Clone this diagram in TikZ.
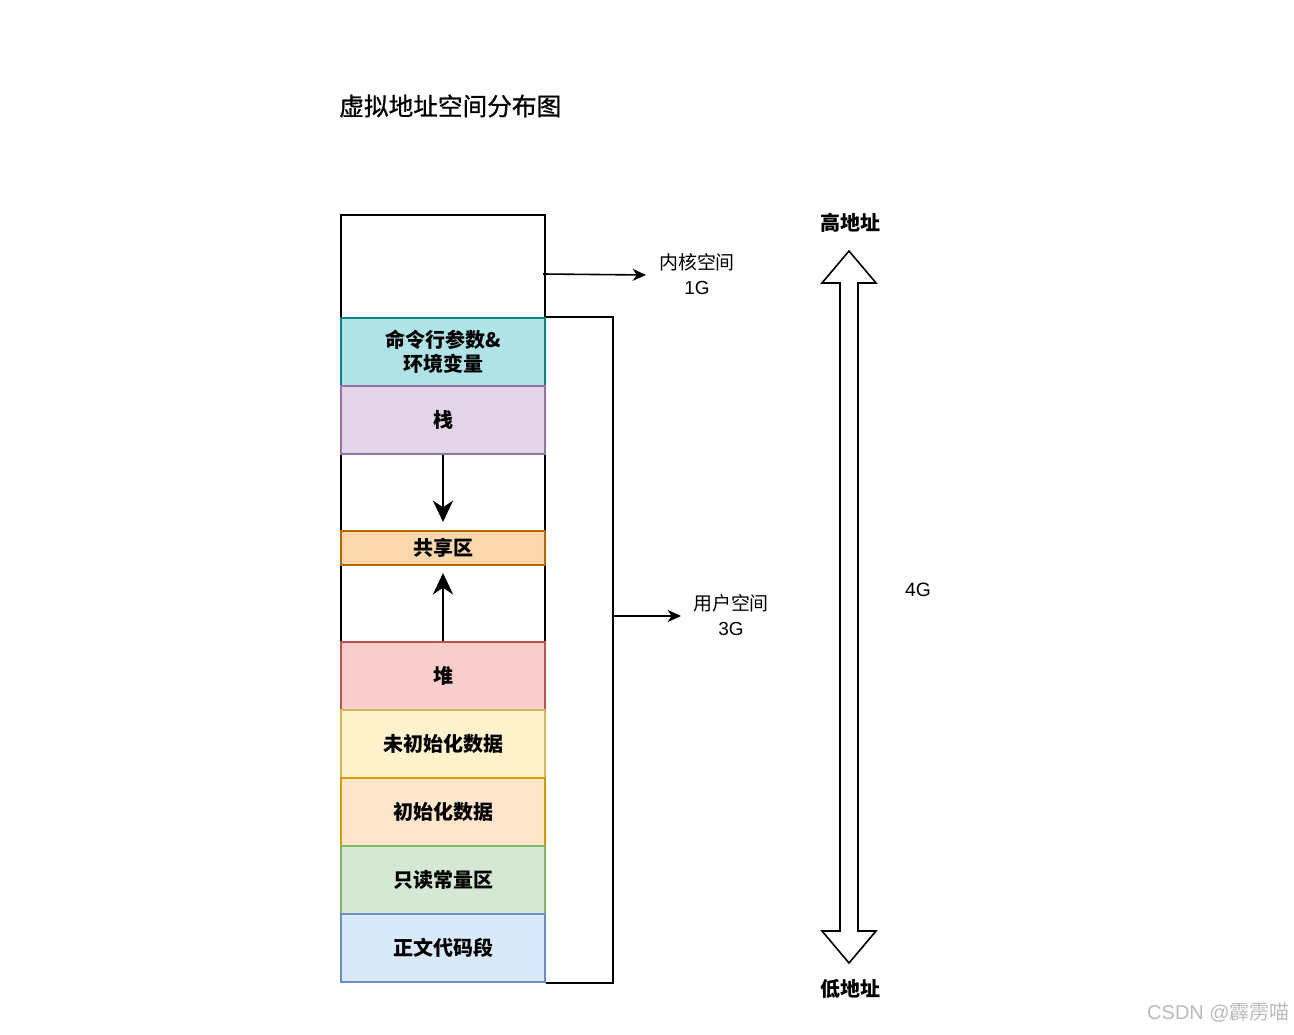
\documentclass[tikz,border=0pt]{standalone}
\usepackage{fontspec}
\setmainfont{Liberation Sans}
\newfontfamily\cjk{Noto Sans CJK SC}
\newfontfamily\cjktitle{Noto Sans CJK SC}[FakeBold=0.8]
\usetikzlibrary{arrows.meta}
\definecolor{cmdF}{HTML}{B0E3E6}\definecolor{cmdD}{HTML}{0E8088}
\definecolor{stkF}{HTML}{E1D5E7}\definecolor{stkD}{HTML}{9673A6}
\definecolor{shrF}{HTML}{FAD7AC}\definecolor{shrD}{HTML}{B46504}
\definecolor{heapF}{HTML}{F8CECC}\definecolor{heapD}{HTML}{B85450}
\definecolor{bssF}{HTML}{FFF2CC}\definecolor{bssD}{HTML}{D6B656}
\definecolor{datF}{HTML}{FFE6CC}\definecolor{datD}{HTML}{D79B00}
\definecolor{roF}{HTML}{D5E8D4}\definecolor{roD}{HTML}{82B366}
\definecolor{txtF}{HTML}{DAE8FC}\definecolor{txtD}{HTML}{6C8EBF}
\definecolor{wm}{HTML}{BBBBBB}
\begin{document}
\begin{tikzpicture}[x=0.75pt,y=-0.75pt,
  seg/.style={rectangle, draw, minimum width=204*0.75pt, inner sep=0pt, line width=1.2pt,
    font=\cjk\bfseries\fontsize{15}{18}\selectfont, align=center},
  lbl/.style={inner sep=0pt, align=center, font=\cjk\fontsize{14.2}{18.5}\selectfont},
  blbl/.style={inner sep=0pt, align=center, font=\cjk\bfseries\fontsize{15}{18}\selectfont},
  conn/.style={line width=1.2pt, -{Stealth[length=10pt,width=9pt,inset=3pt]}},
  growarrow/.style={line width=2.2pt, -{Stealth[length=16pt,width=15pt,inset=5pt]}},
]
\useasboundingbox[fill=white] (0,0) rectangle (1294,1034);

% title
\node[anchor=west, inner sep=0pt, font=\cjktitle\fontsize{18.5}{22}\selectfont] (title) at (339,106) {虚拟地址空间分布图};

% column
\node[seg, fill=white, minimum height=767*0.75pt] (col) at (443,598.5) {};
\node[seg, minimum height=103*0.75pt] (kern) at (443,266.5) {};
\node[seg, fill=cmdF, draw=cmdD, minimum height=68*0.75pt] (cmd) at (443,352) {命令行参数\&\\环境变量};
\node[seg, fill=stkF, draw=stkD, minimum height=68*0.75pt] (stk) at (443,420) {栈};
\node[seg, fill=shrF, draw=shrD, minimum height=34*0.75pt] (shr) at (443,548) {共享区};
\node[seg, fill=heapF, draw=heapD, minimum height=68*0.75pt] (heap) at (443,676) {堆};
\node[seg, fill=bssF, draw=bssD, minimum height=68*0.75pt] (bss) at (443,744) {未初始化数据};
\node[seg, fill=datF, draw=datD, minimum height=68*0.75pt] (dat) at (443,812) {初始化数据};
\node[seg, fill=roF, draw=roD, minimum height=68*0.75pt] (ro) at (443,880) {只读常量区};
\node[seg, fill=txtF, draw=txtD, minimum height=68*0.75pt] (txt) at (443,948) {正文代码段};

% growth arrows
\coordinate (stkEnd) at (443,522);
\coordinate (heapEnd) at (443,573);
\draw[growarrow] (stk.south) -- (stkEnd);
\draw[growarrow] (heap.north) -- (heapEnd);

% kernel space
\node[lbl] (kt) at (697,274) {内核空间\\{\rmfamily 1G}};
\coordinate (ka) at (543,274);
\coordinate (kb) at (646,275);
\draw[conn] (ka) -- (kb);

% user space bracket
\coordinate (br) at (613,616);
\draw[line width=1.2pt] (cmd.north east) -- (cmd.north east -| br) |- (txt.south east);
\node[lbl] (ut) at (731,615) {用户空间\\{\rmfamily 3G}};
\coordinate (ue) at (681,616);
\draw[conn] (br) -- (ue);

% address labels
\node[blbl] (hi) at (850,223) {高地址};
\node[blbl] (lo) at (850,989) {低地址};
\node[inner sep=0pt, font=\fontsize{14.5}{16}\selectfont] (four) at (918,590) {4G};
\draw[line width=1.2pt, line join=miter]
  (849,251) -- (876,283) -- (858,283) -- (858,931) -- (876,931) -- (849,963)
  -- (822,931) -- (840,931) -- (840,283) -- (822,283) -- cycle;

% watermark
\node[anchor=east, inner sep=0pt, text=wm, font=\fontsize{15}{18}\selectfont] (wmk) at (1290,1013) {CSDN @{\cjk 霹雳喵}};
\end{tikzpicture}
\end{document}
